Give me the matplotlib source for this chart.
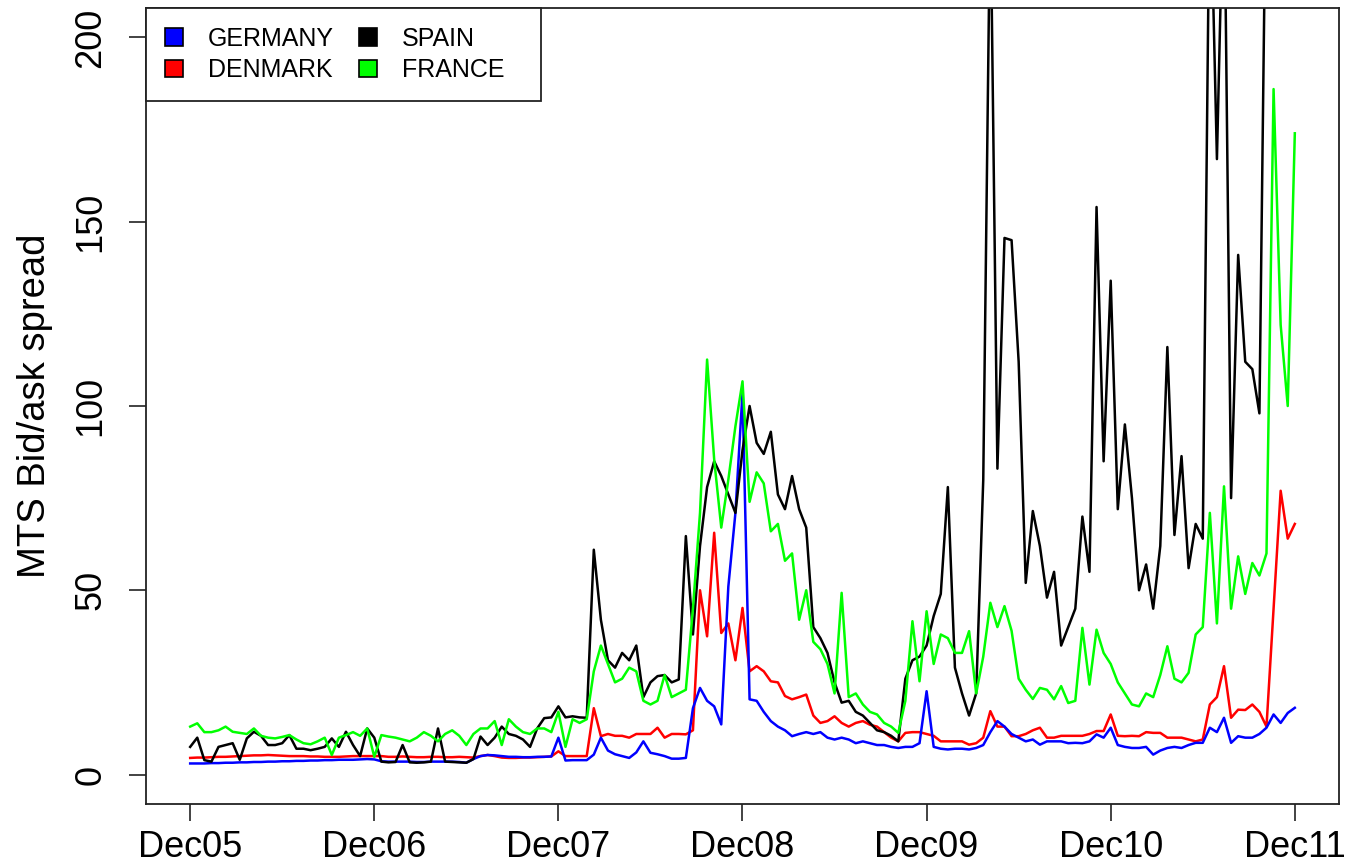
import numpy as np
import matplotlib
matplotlib.use("Agg")
import matplotlib.pyplot as plt
from matplotlib.patches import Patch, Rectangle

plt.rcParams['font.family'] = ['Liberation Sans', 'DejaVu Sans']

# Fortnightly MTS bid/ask spreads, Dec 2005 - Dec 2011 (one row per year)
germany = (
    [3.0, 3.0, 3.0, 3.1, 3.1, 3.2, 3.2, 3.3, 3.3, 3.4, 3.4, 3.5, 3.5, 3.6, 3.6, 3.7, 3.7, 3.8, 3.8, 3.9, 3.9, 4.0, 4.0, 4.0, 4.1, 4.2]
    + [4.1, 3.6, 3.5, 3.5, 3.5, 3.5, 3.4, 3.4, 3.5, 3.5, 3.5, 3.5, 3.4, 3.2, 4.2, 5.0, 5.3, 5.2, 5.0, 4.8, 4.8, 4.7, 4.7, 4.8, 4.8, 4.9]
    + [10, 3.8, 3.9, 3.9, 3.9, 5.4, 10, 6.5, 5.5, 5.0, 4.5, 6.0, 9.0, 5.9, 5.5, 5.0, 4.3, 4.3, 4.5, 18, 23.5, 20, 18.5, 13.6, 51, 71]
    + [103.6, 20.4, 20, 17, 14.5, 13, 12, 10.4, 11, 11.5, 11, 11.5, 10, 9.5, 10, 9.5, 8.5, 9, 8.5, 8, 8, 7.5, 7.2, 7.5, 7.5, 8.5]
    + [22.6, 7.5, 7.0, 6.8, 7.0, 7.0, 6.8, 7.2, 8.0, 11.5, 14.5, 13, 11, 10, 9, 9.5, 8.1, 9, 9, 9, 8.5, 8.6, 8.5, 9, 10.9, 10]
    + [12.7, 8, 7.5, 7.2, 7.2, 7.5, 5.4, 6.5, 7.2, 7.5, 7.2, 8, 8.6, 8.6, 12.7, 11.5, 15.4, 8.6, 10.4, 10, 10, 11, 12.7, 16.3, 14, 16.7, 18.1]
)

denmark = (
    [4.5, 4.6, 4.6, 4.7, 4.8, 4.8, 4.9, 5.0, 5.1, 5.2, 5.2, 5.3, 5.2, 5.1, 5.0, 5.0, 5.0, 4.9, 4.9, 4.8, 4.8, 4.8, 4.9, 5.0, 5.0, 5.0]
    + [5.0, 5.0, 4.8, 4.8, 4.9, 4.8, 4.7, 4.7, 4.8, 4.8, 4.7, 4.7, 4.8, 4.7, 4.6, 5.0, 5.3, 5.0, 4.6, 4.5, 4.5, 4.6, 4.6, 4.7, 4.8, 4.9]
    + [6.3, 5, 5, 5, 5, 18, 10.4, 11, 10.5, 10.5, 10, 11, 11, 11, 12.7, 10, 11, 11, 10.9, 12, 50, 37.5, 65.6, 38.4, 41, 31]
    + [45.2, 28, 29.4, 28, 25.3, 25, 21.3, 20.4, 21, 21.7, 16, 14, 14.5, 15.8, 14, 13, 14, 14.5, 13.5, 13, 11.5, 10, 9, 11.3, 11.5, 11.5]
    + [11, 10.5, 9, 9, 9, 9, 8.1, 8.5, 10, 17.2, 13, 13, 10.4, 10.4, 11, 12, 12.7, 10, 10, 10.5, 10.5, 10.5, 10.5, 11, 11.8, 11.8]
    + [16.3, 10.5, 10.4, 10.5, 10.4, 11.5, 11.3, 11.3, 10, 10, 10, 9.5, 9, 9.5, 19, 21, 29.4, 15.4, 17.6, 17.5, 19, 17, 13, 45, 77, 64, 68]
)

spain = (
    [7.5, 10, 3.9, 3.5, 7.5, 8, 8.5, 4, 9.8, 11.6, 10.5, 8, 8, 8.5, 10.7, 7, 7, 6.6, 7, 7.5, 9.8, 7.5, 11.6, 8, 5, 12.5]
    + [10, 3.5, 3.3, 3.4, 8, 3.3, 3.2, 3.3, 3.5, 12.5, 3.5, 3.4, 3.3, 3.2, 4.2, 10.3, 8, 10, 13, 11, 10.5, 9.5, 7.5, 12.5, 15.3, 15.5]
    + [18.5, 15.5, 15.8, 15.5, 15.4, 61, 42, 31, 29, 33, 31, 35, 21, 25, 26.7, 27, 25, 25.8, 64.7, 38, 62, 78, 85, 81, 76, 71]
    + [88, 100, 90, 87, 93, 76, 72, 81, 72, 67, 40, 37, 33, 25, 19.5, 20, 17, 16, 14, 12, 11.5, 10.5, 9, 26, 31, 32]
    + [35, 43, 49, 78, 29, 22, 16, 22, 80, 240, 83, 145.6, 145, 112, 52, 71.5, 62, 48, 55, 35, 40, 45, 70, 55, 154, 85]
    + [134, 72, 95, 75, 50, 57, 45, 62, 116, 65, 86.4, 56, 68, 64, 250, 167, 250, 75, 141, 112, 110, 98, 260, 300, 300, 300, 300]
)

france = (
    [13, 13.9, 11.5, 11.5, 12, 13, 11.6, 11.3, 11, 12.5, 10.5, 10, 9.8, 10.2, 10.7, 9.5, 8.5, 8.2, 9, 10, 5.3, 10, 10.7, 11.5, 10.5, 12.5]
    + [4.8, 10.7, 10.3, 10, 9.5, 9, 10, 11.5, 10.5, 9, 11, 12, 10.5, 8, 11, 12.5, 12.5, 14.5, 8, 15, 13, 11.5, 11, 12.5, 12.5, 11.5]
    + [17, 7.5, 15, 14, 15, 28, 35, 30, 25, 26, 29, 28, 20, 19, 20, 27, 21, 22, 23, 45, 71, 112.6, 85.5, 67, 80, 94.5]
    + [106.7, 74, 82, 79, 66, 68, 58, 60, 42, 50, 36, 34, 30, 22, 49.3, 21, 22, 19, 17, 16.3, 14, 13, 11.3, 20, 41.6, 25.3]
    + [44.3, 30, 38, 37, 33, 33, 38.9, 22, 32, 46.6, 40, 45.7, 39, 26, 23, 20.5, 23.5, 23, 20.4, 24, 19.4, 20, 39.8, 24.4, 39.3, 33]
    + [30, 25, 22, 19, 18.5, 22, 21, 27, 34.8, 26, 25, 27.6, 38, 40, 71, 41, 78.2, 45, 59.2, 49, 57.4, 54, 60, 186, 122, 100, 174]
)

tick_labels = ["Dec05", "Dec06", "Dec07", "Dec08", "Dec09", "Dec10", "Dec11"]
y_ticks = [0, 50, 100, 150, 200]
obs_per_year = 26

series = [
    ("DENMARK", denmark, "#ff0000"),
    ("GERMANY", germany, "#0000ff"),
    ("SPAIN", spain, "#000000"),
    ("FRANCE", france, "#00ff00"),
]
legend_order = ["GERMANY", "DENMARK", "SPAIN", "FRANCE"]

fig = plt.figure(figsize=(13.5, 8.64), dpi=100)
ax = fig.add_axes([146 / 1350, 1 - 804 / 864, (1339 - 146) / 1350, (804 - 8) / 864])

for name, vals, col in series:
    x = np.arange(len(vals))
    ax.plot(x, vals, color=col, lw=1.8, solid_joinstyle="round")

n = len(germany)
span = n - 1
ax.set_xlim(-0.04 * span, span * 1.04)
ax.set_ylim(-8, 208)

ax.set_xticks(np.arange(0, n, obs_per_year))
ax.set_xticklabels(tick_labels)
ax.set_yticks(y_ticks)
ax.set_yticklabels([str(v) for v in y_ticks], rotation=90, va="center", ha="right")

ax.tick_params(axis="both", direction="out", length=12, width=1.2, color="#222222",
               labelsize=26)
ax.tick_params(axis="x", pad=7)
ax.tick_params(axis="y", pad=15)
for sp in ax.spines.values():
    sp.set_linewidth(1.3)
    sp.set_color("#222222")

ax.set_ylabel("MTS Bid/ask spread", fontsize=27.5)
ax.yaxis.set_label_coords(-0.078, 0.5)

colors = {name: col for name, _, col in series}
legend_fs = 18
handles = [Patch(facecolor=colors[k], edgecolor="black", linewidth=1.2, label=k) for k in legend_order]
leg = ax.legend(handles=handles, loc="upper left", bbox_to_anchor=(0, 1), borderaxespad=0,
                ncol=2, fontsize=legend_fs, frameon=False,
                handlelength=0.72, handleheight=0.72, handletextpad=1.0, columnspacing=1.0,
                borderpad=0.75, labelspacing=0.3)
leg.set_zorder(6)

# Legend box with a wider right margin
fig.canvas.draw()
bb = leg.get_window_extent()
extra = 0.7 * legend_fs * fig.dpi / 72
inv = fig.transFigure.inverted()
(x0, y0), (x1, y1) = inv.transform([(bb.x0, bb.y0), (bb.x1 + extra, bb.y1)])
box = Rectangle((x0, y0), x1 - x0, y1 - y0, transform=fig.transFigure,
                facecolor="white", edgecolor="#222222", linewidth=1.3, zorder=5, clip_on=False)
ax.add_patch(box)

fig.savefig("out.png", dpi=100)
